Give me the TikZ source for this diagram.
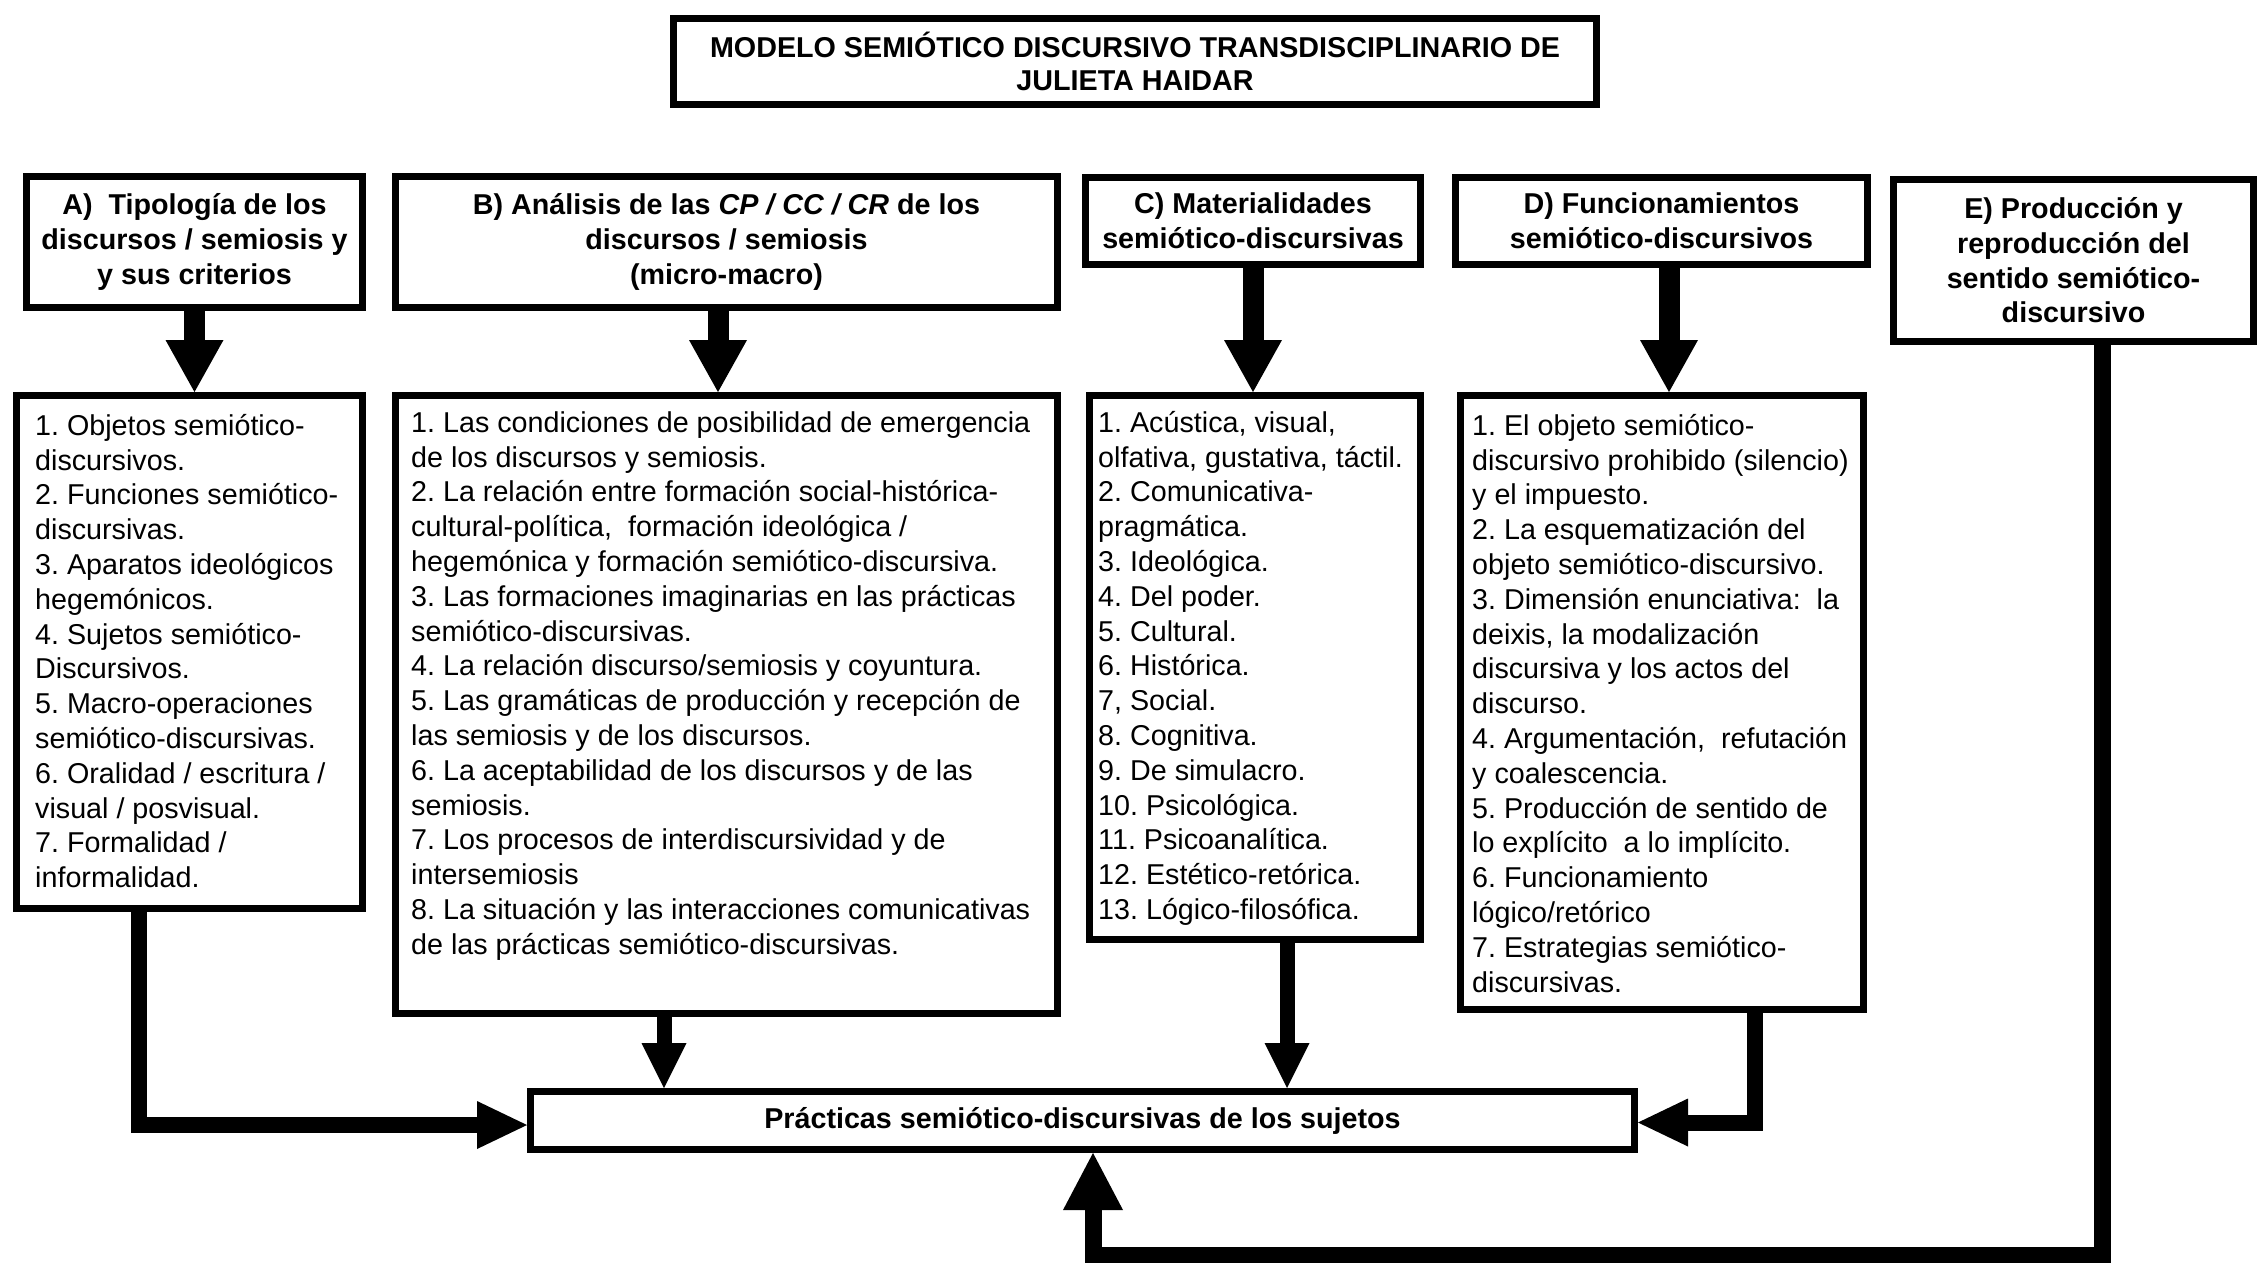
\documentclass[tikz,border=0pt]{standalone}
\usepackage{fontspec}
\setmainfont{Liberation Sans}
\usetikzlibrary{arrows.meta}
\begin{document}
\begin{tikzpicture}[x=1pt,y=-1pt,
  panel/.style={draw, line width=7pt, inner sep=0pt, fill=white},
  headtxt/.style={font=\bfseries\fontsize{28.7}{34.6}\selectfont\frenchspacing, align=center},
  listtxt/.style={font=\fontsize{28.7}{34.8}\selectfont\frenchspacing, align=left, inner sep=0pt, anchor=north west},
  bigarrow/.style={line width=21pt, -{Triangle[length=52pt,width=58pt,line width=0pt]}},
  midarrow/.style={line width=15pt, -{Triangle[length=45pt,width=45pt,line width=0pt]}},
  sidearrow/.style={line width=16pt, -{Triangle[length=50pt,width=48pt,line width=0pt]}},
  backline/.style={line width=17pt, -{Triangle[length=57pt,width=60pt,line width=0pt]}},
]
\useasboundingbox (0,0) rectangle (2259,1262);

% title
\node[panel, headtxt, minimum width=923pt, minimum height=86pt, font=\bfseries\fontsize{28.7}{33}\selectfont]
  (T) at (1135,61.5) {MODELO SEMIÓTICO DISCURSIVO TRANSDISCIPLINARIO DE\\JULIETA HAIDAR};

% heading boxes
\node[panel, headtxt, minimum width=336pt, minimum height=131pt] (A) at (194.5,242)
  {A)~ Tipología de los\\discursos / semiosis y\\y sus criterios};
\node[panel, headtxt, minimum width=662pt, minimum height=131pt] (B) at (726.5,242)
  {B) Análisis de las \textit{CP / CC / CR} de los\\discursos / semiosis\\(micro-macro)};
\node[panel, headtxt, minimum width=335pt, minimum height=87pt] (C) at (1253,221)
  {C) Materialidades\\semiótico-discursivas};
\node[panel, headtxt, minimum width=412pt, minimum height=87pt] (D) at (1661.5,221)
  {D) Funcionamientos\\semiótico-discursivos};
\node[panel, headtxt, minimum width=360pt, minimum height=162pt] (E) at (2073.5,260.5)
  {E) Producción y\\reproducción del\\sentido semiótico-\\discursivo};

% list boxes
\node[panel, minimum width=346pt, minimum height=513pt] (LA) at (189.5,652) {};
\node[panel, minimum width=662pt, minimum height=618pt] (LB) at (726.5,704.5) {};
\node[panel, minimum width=331pt, minimum height=544pt] (LC) at (1255,667.5) {};
\node[panel, minimum width=403pt, minimum height=614pt] (LD) at (1662,702.5) {};

\node[listtxt] (tA) at (35,408) {\rule{0pt}{27pt}1. Objetos semiótico-\\
discursivos.\\
2. Funciones semiótico-\\
discursivas.\\
3. Aparatos ideológicos\\
hegemónicos.\\
4. Sujetos semiótico-\\
Discursivos.\\
5. Macro-operaciones\\
semiótico-discursivas.\\
6. Oralidad / escritura /\\
visual / posvisual.\\
7. Formalidad /\\
informalidad.};

\node[listtxt] (tB) at (411,405) {\rule{0pt}{27pt}1. Las condiciones de posibilidad de emergencia\\
de los discursos y semiosis.\\
2. La relación entre formación social-histórica-\\
cultural-política, \ formación ideológica /\\
hegemónica y formación semiótico-discursiva.\\
3. Las formaciones imaginarias en las prácticas\\
semiótico-discursivas.\\
4. La relación discurso/semiosis y coyuntura.\\
5. Las gramáticas de producción y recepción de\\
las semiosis y de los discursos.\\
6. La aceptabilidad de los discursos y de las\\
semiosis.\\
7. Los procesos de interdiscursividad y de\\
intersemiosis\\
8. La situación y las interacciones comunicativas\\
de las prácticas semiótico-discursivas.};

\node[listtxt] (tC) at (1098,405) {\rule{0pt}{27pt}1. Acústica, visual,\\
olfativa, gustativa, táctil.\\
2. Comunicativa-\\
pragmática.\\
3. Ideológica.\\
4. Del poder.\\
5. Cultural.\\
6. Histórica.\\
7, Social.\\
8. Cognitiva.\\
9. De simulacro.\\
10. Psicológica.\\
11. Psicoanalítica.\\
12. Estético-retórica.\\
13. Lógico-filosófica.};

\node[listtxt] (tD) at (1472,408) {\rule{0pt}{27pt}1. El objeto semiótico-\\
discursivo prohibido (silencio)\\
y el impuesto.\\
2. La esquematización del\\
objeto semiótico-discursivo.\\
3. Dimensión enunciativa: \ la\\
deixis, la modalización\\
discursiva y los actos del\\
discurso.\\
4. Argumentación, \ refutación\\
y coalescencia.\\
5. Producción de sentido de\\
lo explícito \ a lo implícito.\\
6. Funcionamiento\\
lógico/retórico\\
7. Estrategias semiótico-\\
discursivas.};

% practices box
\node[panel, headtxt, minimum width=1104pt, minimum height=58pt] (P) at (1082.5,1120.5)
  {Prácticas semiótico-discursivas de los sujetos};

% arrows from headings to lists
\draw[bigarrow] (A.south) -- (A.south |- LA.north);
\coordinate (bB) at ([xshift=-8.5pt]B.south);
\draw[bigarrow] (bB) -- (bB |- LB.north);
\draw[bigarrow] (C.south) -- (C.south |- LC.north);
\coordinate (bD) at ([xshift=7.5pt]D.south);
\draw[bigarrow] (bD) -- (bD |- LD.north);

% arrows from lists to the practices box
\coordinate (oB) at ([xshift=-62.5pt]LB.south);
\draw[midarrow] (oB) -- (oB |- P.north);
\coordinate (oC) at ([xshift=32pt]LC.south);
\draw[midarrow] (oC) -- (oC |- P.north);
\coordinate (oA) at ([xshift=-50.5pt]LA.south);
\coordinate (pw) at ([yshift=-4.5pt]P.west);
\draw[sidearrow] (oA) |- (pw);
\coordinate (oD) at ([xshift=93pt]LD.south);
\coordinate (pe) at ([yshift=-2pt]P.east);
\draw[sidearrow] (oD) |- (pe);

% feedback from E to the practices box
\coordinate (oE) at ([xshift=28.5pt]E.south);
\coordinate (iP) at ([xshift=10.5pt]P.south);
\coordinate (low) at (0,1255);
\draw[backline] (oE) -- (oE |- low) -| (iP);
\end{tikzpicture}
\end{document}
